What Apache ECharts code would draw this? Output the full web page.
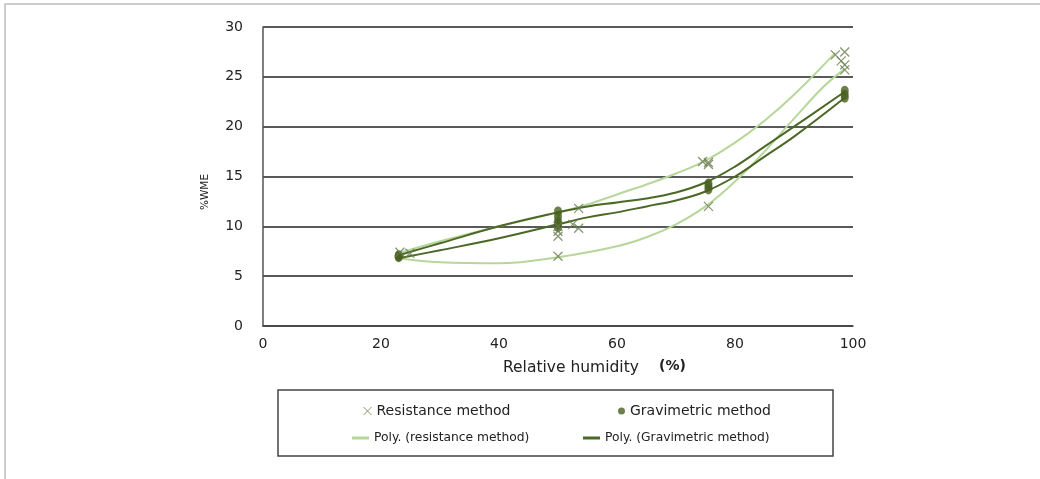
<!DOCTYPE html>
<html>
<head>
<meta charset="utf-8">
<script src="https://cdn.jsdelivr.net/npm/echarts@6/dist/echarts.min.js"></script>
<style>
  html, body { margin: 0; padding: 0; background: #ffffff; }
  #chart { width: 1040px; height: 479px; }
</style>
</head>
<body>
<div id="chart"></div>
<script>
// Moisture content (%WME) measured at several relative humidity levels
const resistanceRH  = [23.2, 24.9, 50, 50, 50, 50, 52.5, 53.5, 53.5, 74.5, 75.5, 75.5, 75.5, 97, 98.6, 98, 98.6, 98.6];
const resistanceWME = [7.4, 7.3, 7.0, 9.0, 9.5, 10.0, 10.2, 9.8, 11.8, 16.5, 16.2, 16.4, 12.0, 27.2, 27.5, 26.6, 26.2, 25.7];

const gravimetricRH  = [23, 23, 23, 50, 50, 50, 50, 50, 75.5, 75.5, 75.5, 98.6, 98.6, 98.6];
const gravimetricWME = [7.0, 6.9, 7.1, 11.5, 11.0, 10.5, 10.2, 9.9, 14.3, 14.0, 13.7, 23.6, 23.2, 22.9];

// Polynomial trend curves (upper and lower envelope for each method)
const polyResUpperRH   = [23, 30, 40, 50, 55, 60, 65, 70, 75, 80, 85, 90, 97];
const polyResUpperWME  = [7.3, 8.5, 10.0, 11.4, 12.2, 13.2, 14.2, 15.3, 16.6, 18.4, 20.6, 23.2, 27.4];
const polyResLowerRH   = [23, 30, 40, 50, 60, 65, 70, 75, 80, 85, 90, 95, 98.6];
const polyResLowerWME  = [6.8, 6.4, 6.3, 6.9, 8.0, 8.9, 10.2, 12.0, 14.5, 17.5, 20.8, 24.0, 25.8];
const polyGravUpperRH  = [23, 30, 40, 50, 55, 60, 65, 70, 75, 80, 85, 90, 98.6];
const polyGravUpperWME = [7.1, 8.3, 10.0, 11.4, 12.0, 12.4, 12.8, 13.4, 14.4, 16.0, 18.0, 20.0, 23.5];
const polyGravLowerRH  = [23, 30, 40, 50, 55, 60, 65, 70, 75, 80, 85, 90, 98.6];
const polyGravLowerWME = [6.8, 7.6, 8.8, 10.2, 10.9, 11.4, 12.0, 12.6, 13.5, 15.0, 17.0, 19.0, 22.9];

const xTicks = [0, 20, 40, 60, 80, 100];
const yTicks = [0, 5, 10, 15, 20, 25, 30];

const pairs = (xs, ys) => xs.map((x, i) => [x, ys[i]]);

const FONT = 'DejaVu Sans';
const LIGHT = '#b7d79a';
const DARK = '#4b6826';
const CROSS = '#6c7d50';
const DOT = '#48601f';
const crossPath = 'path://M0,0L10,10M10,0L0,10';

const chart = echarts.init(document.getElementById('chart'), null, { renderer: 'canvas' });

chart.setOption({
  animation: false,
  backgroundColor: '#ffffff',
  textStyle: { fontFamily: FONT },
  grid: { left: 263, right: 187, top: 27, bottom: 153, containLabel: false },
  xAxis: {
    type: 'value',
    min: xTicks[0], max: xTicks[xTicks.length - 1], interval: 20,
    axisLine: { show: true, lineStyle: { color: '#444', width: 1.5 } },
    axisTick: { show: false },
    splitLine: { show: false },
    axisLabel: { color: '#222', fontSize: 14, margin: 11, fontFamily: FONT }
  },
  yAxis: {
    type: 'value',
    min: yTicks[0], max: yTicks[yTicks.length - 1], interval: 5,
    axisLine: { show: true, lineStyle: { color: '#555', width: 1.5 } },
    axisTick: { show: false },
    splitLine: { show: true, lineStyle: { color: '#222', width: 1.5 } },
    axisLabel: { color: '#222', fontSize: 14, margin: 20, fontFamily: FONT }
  },
  legend: [
    {
      left: 363, top: 404, padding: 0, itemWidth: 8, itemHeight: 8, itemGap: 5,
      data: [{ name: 'Resistance method', icon: crossPath,
               itemStyle: { color: 'transparent', borderColor: CROSS, borderWidth: 1 } }],
      textStyle: { fontSize: 14, color: '#222', fontFamily: FONT }
    },
    {
      left: 618, top: 404, padding: 0, itemWidth: 7, itemHeight: 8,
      data: [{ name: 'Gravimetric method', icon: 'circle' }],
      textStyle: { fontSize: 14, color: '#222', fontFamily: FONT }
    },
    {
      left: 352, top: 432, padding: 0, itemWidth: 17, itemHeight: 3,
      data: [{ name: 'Poly. (resistance method)', icon: 'rect' }],
      textStyle: { fontSize: 12.3, color: '#222', fontFamily: FONT }
    },
    {
      left: 583, top: 432, padding: 0, itemWidth: 17, itemHeight: 3,
      data: [{ name: 'Poly. (Gravimetric method)', icon: 'rect' }],
      textStyle: { fontSize: 12.3, color: '#222', fontFamily: FONT }
    }
  ],
  graphic: [
    { type: 'rect', silent: true, shape: { x: 5, y: 4, width: 1100, height: 600 },
      style: { fill: 'none', stroke: '#bdbdbd', lineWidth: 1.5 } },
    { type: 'rect', silent: true, shape: { x: 278, y: 390, width: 555, height: 66 },
      style: { fill: 'none', stroke: '#444', lineWidth: 1.5 } },
    { type: 'text', left: 503, top: 360,
      style: { text: 'Relative humidity', fontSize: 15.5, fill: '#222', fontFamily: FONT } },
    { type: 'text', left: 659, top: 359,
      style: { text: '(%)', fontSize: 14, fontWeight: 'bold', fill: '#222', fontFamily: FONT } },
    { type: 'text', x: 205, y: 192, rotation: Math.PI / 2,
      style: { text: '%WME', fontSize: 10.5, fill: '#222', fontFamily: FONT,
               align: 'center', verticalAlign: 'middle' } }
  ],
  series: [
    { name: 'Poly. (resistance method)', type: 'line', smooth: 0.4, showSymbol: false,
      data: pairs(polyResUpperRH, polyResUpperWME), color: LIGHT,
      lineStyle: { color: LIGHT, width: 2 }, z: 2 },
    { name: 'Poly. (resistance method)', type: 'line', smooth: 0.4, showSymbol: false,
      data: pairs(polyResLowerRH, polyResLowerWME), color: LIGHT,
      lineStyle: { color: LIGHT, width: 2 }, z: 2 },
    { name: 'Poly. (Gravimetric method)', type: 'line', smooth: 0.4, showSymbol: false,
      data: pairs(polyGravUpperRH, polyGravUpperWME), color: DARK,
      lineStyle: { color: DARK, width: 2 }, z: 3 },
    { name: 'Poly. (Gravimetric method)', type: 'line', smooth: 0.4, showSymbol: false,
      data: pairs(polyGravLowerRH, polyGravLowerWME), color: DARK,
      lineStyle: { color: DARK, width: 2 }, z: 3 },
    { name: 'Resistance method', type: 'scatter', symbol: crossPath, symbolSize: 9,
      data: pairs(resistanceRH, resistanceWME),
      itemStyle: { color: 'transparent', borderColor: CROSS, borderWidth: 1.3 }, z: 5 },
    { name: 'Gravimetric method', type: 'scatter', symbol: 'circle', symbolSize: [8, 10],
      data: pairs(gravimetricRH, gravimetricWME),
      itemStyle: { color: DOT }, z: 4 }
  ]
});
</script>
</body>
</html>
